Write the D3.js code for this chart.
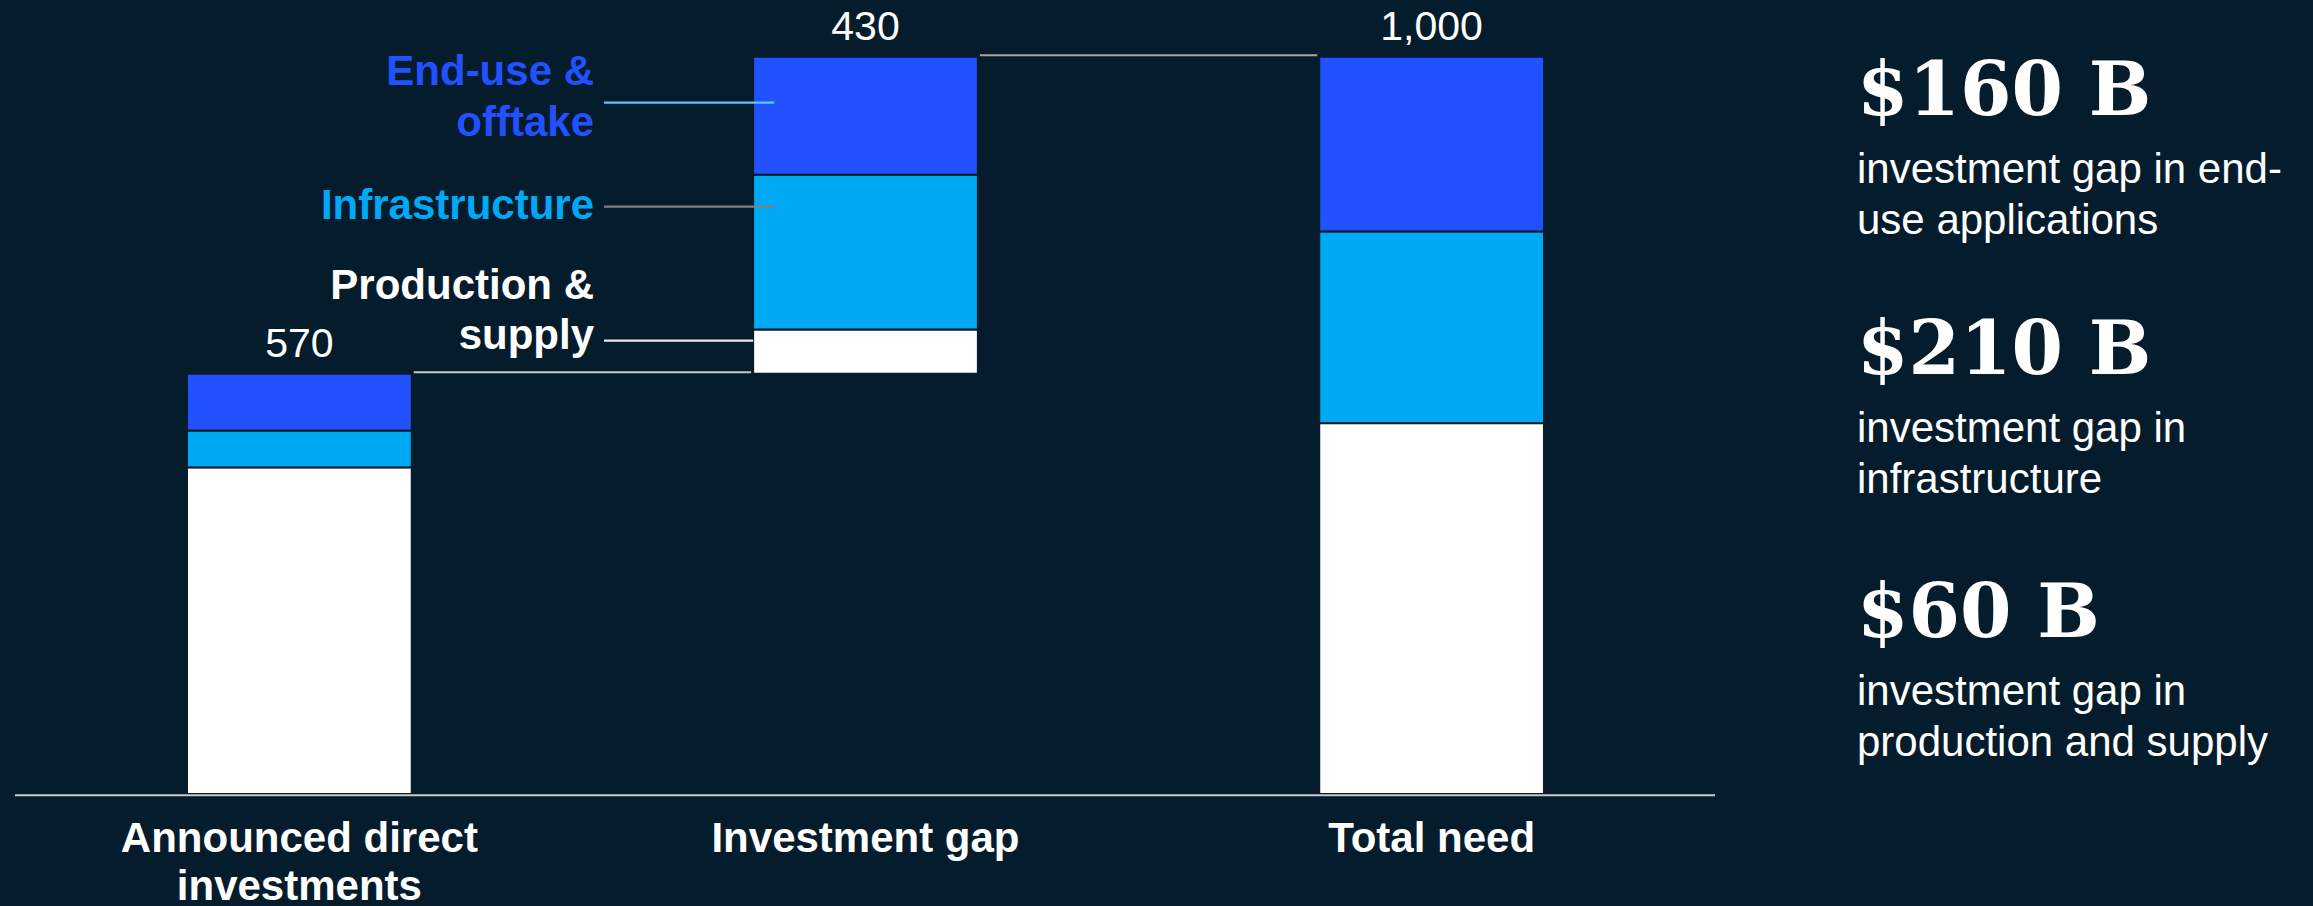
<!DOCTYPE html>
<html>
<head>
<meta charset="utf-8">
<script src="https://cdn.jsdelivr.net/npm/d3@7"></script>
<style>
  html, body { margin: 0; padding: 0; background: #051c2c; }
  svg { display: block; }
</style>
</head>
<body>
<svg id="chart" width="2313" height="906"></svg>
<script>
// Categories along the x axis (each may wrap to two lines)
const categories = ["Announced direct investments", "Investment gap", "Total need"];
const categoryLines = [["Announced direct", "investments"], ["Investment gap"], ["Total need"]];

// Stacked segment values, $ billions, bottom to top
const production = [443, 60, 503];
const infrastructure = [50, 210, 260];
const endUse = [77, 160, 237];

// Floating base of each bar (the gap bar starts where announced investments end)
const bases = [0, 570, 0];

// Totals printed above each bar
const totalLabels = ["570", "430", "1,000"];

// Series names and colours
const seriesNames = ["Production &\nsupply", "Infrastructure", "End-use &\nofftake"];
const seriesColors = ["#ffffff", "#00a9f4", "#2251ff"];

// Right-hand call-outs
const calloutValues = ["$160 B", "$210 B", "$60 B"];
const calloutTexts = [
  ["investment gap in end-", "use applications"],
  ["investment gap in", "infrastructure"],
  ["investment gap in", "production and supply"]
];

const bg = "#051c2c";
const sans = "'Liberation Sans', Arial, sans-serif";
const serif = "'DejaVu Serif', Georgia, serif";

const svg = d3.select("#chart");
svg.append("rect").attr("width", 2313).attr("height", 906).attr("fill", bg);

const x = d3.scaleBand().domain(categories).range([187, 1544]).paddingInner(0.603).paddingOuter(0);
const y = d3.scaleLinear().domain([0, 1000]).range([794, 56.7]);

// Build stack rows: [lower, upper] per segment
const series = [production, infrastructure, endUse];
const rows = [];
categories.forEach((c, i) => {
  let acc = bases[i];
  series.forEach((s, k) => {
    rows.push({ cat: c, k, y0: acc, y1: acc + s[i] });
    acc += s[i];
  });
});

// Bars
svg.append("g").selectAll("rect")
  .data(rows)
  .join("rect")
  .attr("x", d => x(d.cat))
  .attr("width", x.bandwidth())
  .attr("y", d => y(d.y1))
  .attr("height", d => y(d.y0) - y(d.y1))
  .attr("fill", d => seriesColors[d.k])
  .attr("stroke", bg)
  .attr("stroke-width", 2);

// Baseline
svg.append("line")
  .attr("x1", 15).attr("x2", 1715)
  .attr("y1", y(0) + 1.3).attr("y2", y(0) + 1.3)
  .attr("stroke", "#c8c8c8").attr("stroke-width", 2);

// Connectors between bars
const totals = categories.map((c, i) => bases[i] + production[i] + infrastructure[i] + endUse[i]);
const connectors = [
  { from: 0, to: 1, v: totals[0], color: "#c8c8c8" },
  { from: 1, to: 2, v: totals[1], color: "#a6a6a6" }
];
svg.append("g").selectAll("line")
  .data(connectors)
  .join("line")
  .attr("x1", d => x(categories[d.from]) + x.bandwidth() + 2)
  .attr("x2", d => x(categories[d.to]) - 2)
  .attr("y1", d => y(d.v) - 1.5)
  .attr("y2", d => y(d.v) - 1.5)
  .attr("stroke", d => d.color)
  .attr("stroke-width", 2);

// Totals above bars
svg.append("g").selectAll("text")
  .data(categories)
  .join("text")
  .attr("x", d => x(d) + x.bandwidth() / 2)
  .attr("y", (d, i) => y(totals[i]) - 16.5)
  .attr("text-anchor", "middle")
  .attr("font-family", sans)
  .attr("font-size", 41)
  .attr("fill", "#ffffff")
  .text((d, i) => totalLabels[i]);

// Category labels
const catG = svg.append("g");
categories.forEach((c, i) => {
  const t = catG.append("text")
    .attr("x", x(c) + x.bandwidth() / 2)
    .attr("y", 852)
    .attr("text-anchor", "middle")
    .attr("font-family", sans)
    .attr("font-weight", "bold")
    .attr("font-size", 42)
    .attr("fill", "#ffffff");
  categoryLines[i].forEach((ln, j) => {
    t.append("tspan").attr("x", x(c) + x.bandwidth() / 2).attr("dy", j === 0 ? 0 : 48).text(ln);
  });
});

// Series labels with leader lines into the gap bar
const labelRight = 594;
const legend = [
  { k: 2, baseline: 85, leaderY: 102.7, leaderColor: "#5ec8f5", toEnd: x(categories[1]) + 21 },
  { k: 1, baseline: 218.5, leaderY: 206.7, leaderColor: "#7f7f7f", toEnd: x(categories[1]) + 21 },
  { k: 0, baseline: 298.5, leaderY: 340.7, leaderColor: "#e6e6e6", toEnd: x(categories[1]) }
];
const legG = svg.append("g");
legend.forEach(l => {
  const t = legG.append("text")
    .attr("x", labelRight)
    .attr("y", l.baseline)
    .attr("text-anchor", "end")
    .attr("font-family", sans)
    .attr("font-weight", "bold")
    .attr("font-size", 42)
    .attr("fill", seriesColors[l.k] === "#ffffff" ? "#ffffff" : seriesColors[l.k]);
  seriesNames[l.k].split("\n").forEach((ln, j) => {
    t.append("tspan").attr("x", labelRight).attr("dy", j === 0 ? 0 : 50.5).text(ln);
  });
  legG.append("line")
    .attr("x1", 604).attr("x2", l.toEnd)
    .attr("y1", l.leaderY).attr("y2", l.leaderY)
    .attr("stroke", l.leaderColor)
    .attr("stroke-width", 2.2);
});

// Right-hand call-outs
const callG = svg.append("g").attr("transform", "translate(1857,0)");
const calloutBase = [115, 374, 637];
calloutValues.forEach((v, i) => {
  callG.append("text")
    .attr("x", 0).attr("y", calloutBase[i])
    .attr("font-family", serif)
    .attr("font-weight", "bold")
    .attr("font-size", 74)
    .style("font-feature-settings", "'onum'")
    .attr("fill", "#ffffff")
    .text(v);
  const t = callG.append("text")
    .attr("x", 0).attr("y", calloutBase[i] + 68)
    .attr("font-family", sans)
    .attr("font-size", 42)
    .attr("fill", "#ffffff");
  calloutTexts[i].forEach((ln, j) => {
    t.append("tspan").attr("x", 0).attr("dy", j === 0 ? 0 : 50.5).text(ln);
  });
});
</script>
</body>
</html>
